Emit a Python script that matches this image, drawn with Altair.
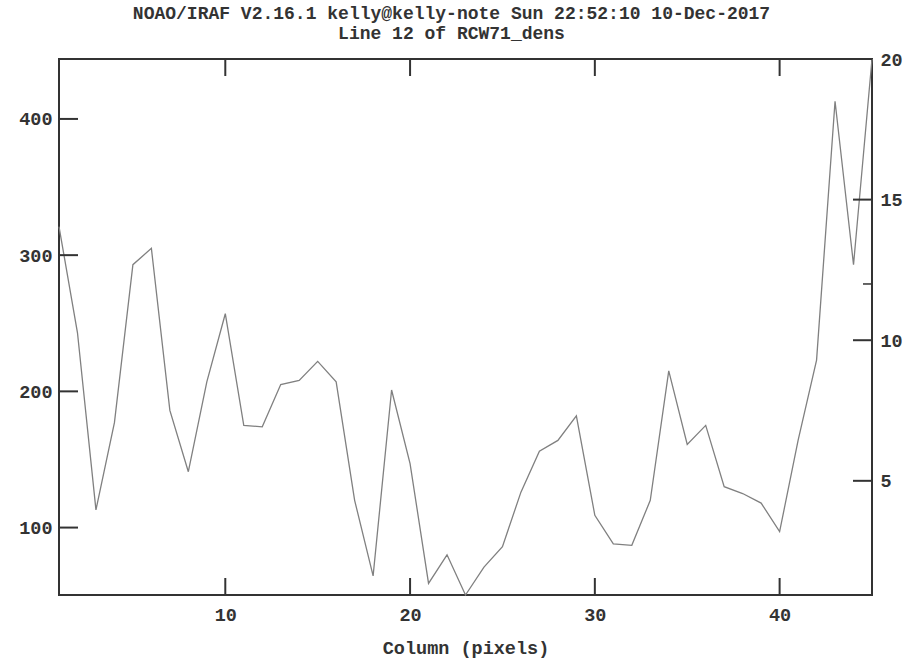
import altair as alt
import pandas as pd

# Data (IRAF implot, line 12 of RCW71_dens)
columns = list(range(1, 46))
values = [321, 243, 113, 177, 293, 305, 186, 141, 207, 257,
          175, 174, 205, 208, 222, 207, 120, 64.5, 201, 147,
          59, 80, 50.5, 71, 86, 126, 156, 164, 182, 109,
          88, 87, 120, 215, 161, 175, 130, 125, 118, 97,
          164, 223, 413, 293, 444]

x_ticks = [10, 20, 30, 40]
left_ticks = [100, 200, 300, 400]
right_ticks = [5, 10, 15, 20]
right_minor = [12]

title_line1 = "NOAO/IRAF V2.16.1 kelly@kelly-note Sun 22:52:10 10-Dec-2017"
title_line2 = "Line 12 of RCW71_dens"
x_title = "Column (pixels)"

FONT = "Liberation Mono"
TXT = "#333333"
AX = "#333333"
W, H = 813, 536
TICK = 17
FS = 18.5
FST = 18

df = pd.DataFrame({"col": columns, "val": values})
df_xt = pd.DataFrame({"col": x_ticks})
df_lt = pd.DataFrame({"val": left_ticks})
df_rt = pd.DataFrame({"rt": right_ticks})
df_rm = pd.DataFrame({"rt": right_minor})

xscale = alt.Scale(domain=[1, 45], nice=False, zero=False)
yscale = alt.Scale(domain=[50.5, 444], nice=False, zero=False)
rscale = alt.Scale(domain=[0.94, 20], nice=False, zero=False)

xaxis = alt.Axis(values=x_ticks, ticks=False, domain=False, grid=False,
                 labelPadding=10, titlePadding=15, title=x_title,
                 labelFont=FONT, labelFontSize=FS, labelFontWeight="bold", labelColor=TXT,
                 titleFont=FONT, titleFontSize=FS, titleFontWeight="bold", titleColor=TXT)
yaxis = alt.Axis(values=left_ticks, ticks=False, domain=False, grid=False,
                 labelPadding=7, title=None,
                 labelFont=FONT, labelFontSize=FS, labelFontWeight="bold", labelColor=TXT)
raxis = alt.Axis(orient="right", values=right_ticks, ticks=False, domain=False, grid=False,
                 labelPadding=8, title=None, labelFlush=False,
                 labelFont=FONT, labelFontSize=FS, labelFontWeight="bold", labelColor=TXT)

line = alt.Chart(df).mark_line(color="#808080", strokeWidth=1.3).encode(
    x=alt.X("col:Q", scale=xscale, axis=xaxis, title=x_title),
    y=alt.Y("val:Q", scale=yscale, axis=yaxis),
)

bottom_t = alt.Chart(df_xt).mark_rule(color=AX, strokeWidth=2).encode(
    x=alt.X("col:Q", scale=xscale, axis=xaxis, title=x_title),
    y=alt.value(H - TICK), y2=alt.value(H),
)
top_t = alt.Chart(df_xt).mark_rule(color=AX, strokeWidth=2).encode(
    x=alt.X("col:Q", scale=xscale, axis=xaxis, title=x_title),
    y=alt.value(0), y2=alt.value(TICK),
)
left_t = alt.Chart(df_lt).mark_rule(color=AX, strokeWidth=2).encode(
    y=alt.Y("val:Q", scale=yscale, axis=yaxis),
    x=alt.value(0), x2=alt.value(TICK + 2),
)

right_t = alt.Chart(df_rt).mark_rule(color=AX, strokeWidth=2).encode(
    y=alt.Y("rt:Q", scale=rscale, axis=raxis),
    x=alt.value(W - TICK - 2), x2=alt.value(W),
)
right_m = alt.Chart(df_rm).mark_rule(color=AX, strokeWidth=1.5).encode(
    y=alt.Y("rt:Q", scale=rscale, axis=raxis),
    x=alt.value(W - 9), x2=alt.value(W),
)

left_layer = alt.layer(line, bottom_t, top_t, left_t)
right_layer = alt.layer(right_t, right_m)

chart = alt.layer(left_layer, right_layer).resolve_scale(y="independent").properties(
    width=W, height=H,
    autosize=alt.AutoSizeParams(type="none"),
    padding={"left": 59, "top": 59, "right": 31, "bottom": 67},
    title=alt.TitleParams(text=title_line1, subtitle=title_line2,
                          font=FONT, fontSize=FST, fontWeight="bold", color=TXT,
                          subtitleFont=FONT, subtitleFontSize=FST, subtitleFontWeight="bold",
                          subtitleColor=TXT, subtitlePadding=2,
                          anchor="middle", dx=-14, offset=7),
    background="white",
).configure_view(stroke=AX, strokeWidth=2)

chart.save("out.html", embed_options={"renderer": "svg", "actions": False})
